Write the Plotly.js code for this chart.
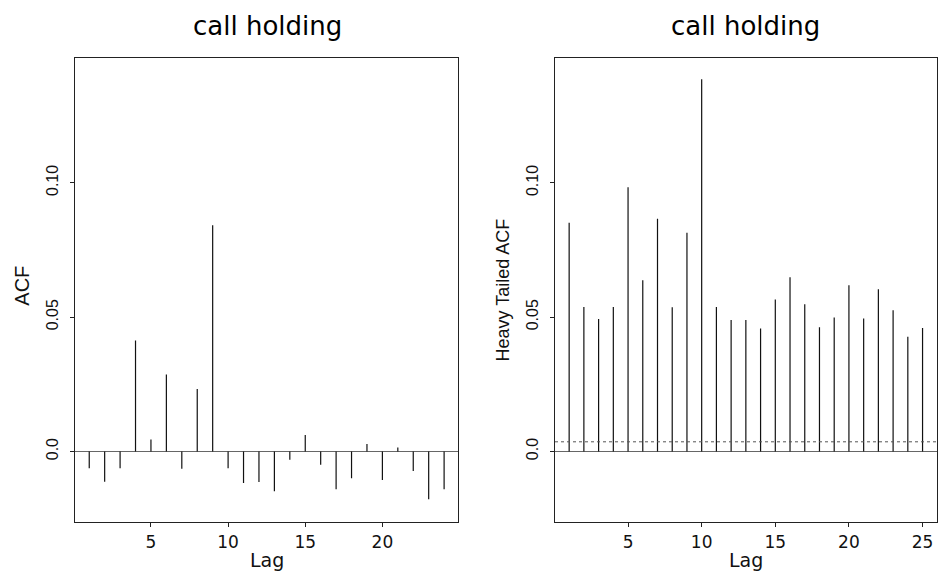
<!DOCTYPE html>
<html>
<head>
<meta charset="utf-8">
<script src="https://cdn.plot.ly/plotly-3.0.1.min.js"></script>
<style>
  html, body { margin: 0; padding: 0; background: #fff; }
  #chart { width: 938px; height: 574px; }
</style>
</head>
<body>
<div id="chart"></div>
<script>
// ---- data ----
const lagsLeft = [1,2,3,4,5,6,7,8,9,10,11,12,13,14,15,16,17,18,19,20,21,22,23,24];
const acfLeft = [-0.0062,-0.0113,-0.0062,0.0413,0.0045,0.0287,-0.0064,0.0233,0.0842,-0.0062,
                 -0.0117,-0.0114,-0.0148,-0.0031,0.0061,-0.0049,-0.0141,-0.0100,0.0028,-0.0106,
                 0.0015,-0.0073,-0.0178,-0.0141];
const lagsRight = [1,2,3,4,5,6,7,8,9,10,11,12,13,14,15,16,17,18,19,20,21,22,23,24,25];
const acfRight = [0.0851,0.0538,0.0493,0.0538,0.0984,0.0637,0.0866,0.0537,0.0814,0.1386,
                  0.0538,0.0489,0.0489,0.0458,0.0566,0.0649,0.0548,0.0462,0.0499,0.0619,
                  0.0495,0.0604,0.0526,0.0427,0.0460];
const ciRight = 0.0036;
const titleLeft = "call holding";
const titleRight = "call holding";
const xLabel = "Lag";
const yLabelLeft = "ACF";
const yLabelRight = "Heavy Tailed ACF";
const xTicksLeft = [5,10,15,20];
const xTicksRight = [5,10,15,20,25];
const yTickVals = [0, 0.05, 0.10];
const yTickText = ["0.0", "0.05", "0.10"];

// ---- build vertical spikes (lag, 0) -> (lag, value) ----
function spikes(lags, vals) {
  const xs = [], ys = [];
  lags.forEach((l, i) => { xs.push(l, l, null); ys.push(0, vals[i], null); });
  return {xs, ys};
}
const sL = spikes(lagsLeft, acfLeft);
const sR = spikes(lagsRight, acfRight);

const FONT = "Liberation Sans, Arial, Helvetica, sans-serif";
const WIDE = "DejaVu Sans, sans-serif";
const lineStyle = {color: "#111", width: 1.2};

const traces = [
  {x: sL.xs, y: sL.ys, type: "scatter", mode: "lines", line: lineStyle,
   xaxis: "x", yaxis: "y", hoverinfo: "skip", showlegend: false},
  {x: sR.xs, y: sR.ys, type: "scatter", mode: "lines", line: lineStyle,
   xaxis: "x2", yaxis: "y2", hoverinfo: "skip", showlegend: false}
];

const axisCommon = {
  showgrid: false, showline: true, mirror: true, linecolor: "#222", linewidth: 1,
  ticks: "outside", ticklen: 4, tickcolor: "#222", tickwidth: 1, fixedrange: true
};
const xTickFont = {family: WIDE, size: 17, color: "#111"};
const yTickFont = {family: FONT, size: 16, color: "#111"};
const yRange = [-0.0264, 0.1464];
const yDomain = [0.0899, 0.8986];

const layout = {
  width: 938, height: 574,
  margin: {l: 0, r: 0, t: 0, b: 0},
  paper_bgcolor: "#fff", plot_bgcolor: "#fff",
  showlegend: false,
  xaxis: Object.assign({}, axisCommon, {
    domain: [0.0800, 0.4886], range: [0.08, 24.92], anchor: "y",
    tickmode: "array", tickvals: xTicksLeft, zeroline: false,
    tickfont: xTickFont, ticklabelstandoff: 0
  }),
  yaxis: Object.assign({}, axisCommon, {
    domain: yDomain, range: yRange, anchor: "x",
    tickmode: "array", tickvals: yTickVals, ticktext: yTickText, tickangle: -90,
    zeroline: true, zerolinecolor: "#666", zerolinewidth: 1,
    tickfont: yTickFont, ticklabelstandoff: 6
  }),
  xaxis2: Object.assign({}, axisCommon, {
    domain: [0.5917, 0.9986], range: [0.04, 25.96], anchor: "y2",
    tickmode: "array", tickvals: xTicksRight, zeroline: false,
    tickfont: xTickFont, ticklabelstandoff: 0
  }),
  yaxis2: Object.assign({}, axisCommon, {
    domain: yDomain, range: yRange, anchor: "x2",
    tickmode: "array", tickvals: yTickVals, ticktext: yTickText, tickangle: -90,
    zeroline: true, zerolinecolor: "#666", zerolinewidth: 1,
    tickfont: yTickFont, ticklabelstandoff: 6
  }),
  shapes: [
    {type: "line", xref: "x2 domain", x0: 0, x1: 1, yref: "y2", y0: ciRight, y1: ciRight,
     line: {color: "#555", width: 1, dash: "3px,3px"}}
  ],
  annotations: [
    {text: titleLeft, xref: "paper", yref: "paper", x: 267.5/938, y: 1 - 26/574,
     xanchor: "center", yanchor: "middle", showarrow: false,
     font: {family: WIDE, size: 26, color: "#000"}},
    {text: titleRight, xref: "paper", yref: "paper", x: 745.6/938, y: 1 - 26/574,
     xanchor: "center", yanchor: "middle", showarrow: false,
     font: {family: WIDE, size: 26, color: "#000"}},
    {text: xLabel, xref: "paper", yref: "paper", x: 267/938, y: 1 - 560/574,
     xanchor: "center", yanchor: "middle", showarrow: false,
     font: {family: WIDE, size: 19, color: "#111"}},
    {text: xLabel, xref: "paper", yref: "paper", x: 746/938, y: 1 - 560/574,
     xanchor: "center", yanchor: "middle", showarrow: false,
     font: {family: WIDE, size: 19, color: "#111"}},
    {text: yLabelLeft, xref: "paper", yref: "paper", x: 21.7/938, y: 1 - 286/574,
     xanchor: "center", yanchor: "middle", showarrow: false, textangle: -90,
     font: {family: FONT, size: 20, color: "#111"}},
    {text: yLabelRight, xref: "paper", yref: "paper", x: 502.5/938, y: 1 - 290/574,
     xanchor: "center", yanchor: "middle", showarrow: false, textangle: -90,
     font: {family: FONT, size: 18, color: "#111"}}
  ]
};

Plotly.newPlot("chart", traces, layout, {staticPlot: true, displayModeBar: false});
</script>
</body>
</html>
